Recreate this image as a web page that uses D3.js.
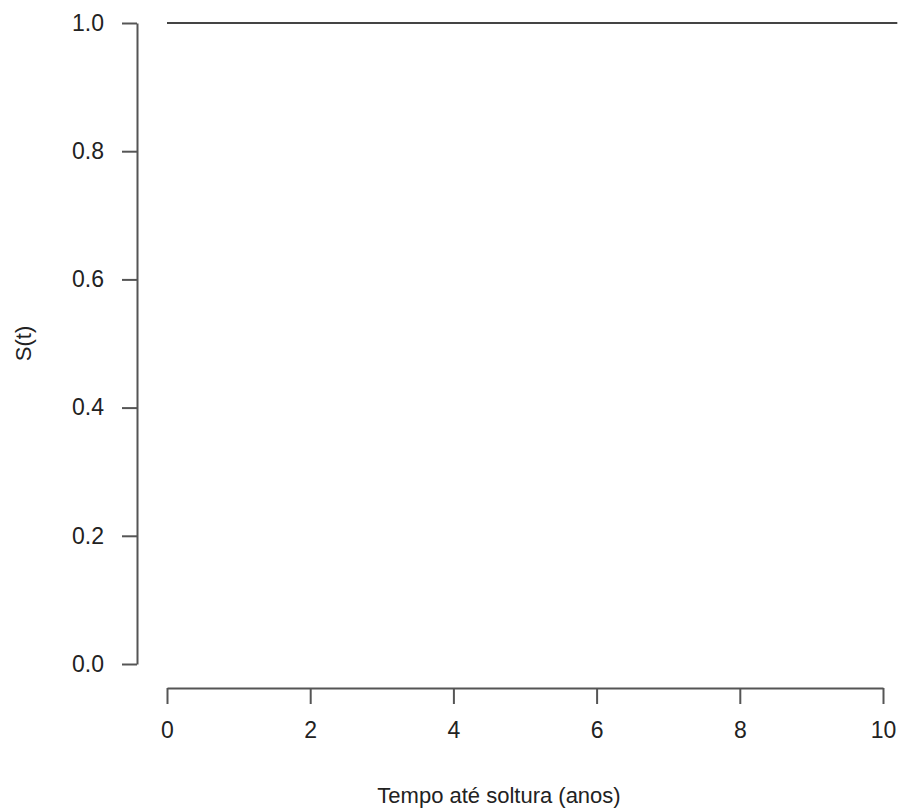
<!DOCTYPE html>
<html>
<head>
<meta charset="utf-8">
<script src="https://cdn.jsdelivr.net/npm/d3@7"></script>
<style>
  body { margin: 0; background: #fff; }
  svg text { font-family: "Liberation Sans", Arial, sans-serif; fill: #222; }
</style>
</head>
<body>
<div class="chart"></div>
<script>
// survival curve: S(t) stays at 1 over the whole observed period
const times = [0, 10.2];
const survival = [1, 1];
const x_ticks = [0, 2, 4, 6, 8, 10];
const y_ticks = [0.0, 0.2, 0.4, 0.6, 0.8, 1.0];
const x_label = 'Tempo até soltura (anos)';
const y_label = 'S(t)';

const width = 902, height = 811;
const tick_font = '23px';
const title_font = '22px';
const svg = d3.select('.chart').append('svg')
  .attr('width', width)
  .attr('height', height);

// scales
const x = d3.scaleLinear().domain([0, 10]).range([167, 883]);
const y = d3.scaleLinear().domain([0, 1]).range([664, 23]);

const axis_color = '#555';

// y axis (R style, detached)
const y_axis = d3.axisLeft(y)
  .tickValues(y_ticks)
  .tickFormat(d3.format('.1f'))
  .tickSize(15)
  .tickSizeOuter(0)
  .tickPadding(18);
const y_group = svg.append('g')
  .attr('transform', 'translate(137,0)')
  .call(y_axis);

// x axis
const x_axis = d3.axisBottom(x)
  .tickValues(x_ticks)
  .tickFormat(d3.format('d'))
  .tickSize(16)
  .tickSizeOuter(0)
  .tickPadding(18);
const x_group = svg.append('g')
  .attr('transform', 'translate(0,688)')
  .call(x_axis);

[y_group, x_group].forEach(g => {
  g.attr('font-size', null);
  g.select('.domain').attr('stroke', axis_color).attr('stroke-width', 2);
  g.selectAll('.tick line').attr('stroke', axis_color).attr('stroke-width', 2);
  g.selectAll('.tick text').style('font-size', tick_font).attr('fill', '#222');
});

// axis titles
svg.append('text')
  .attr('x', 499)
  .attr('y', 803)
  .attr('text-anchor', 'middle')
  .style('font-size', title_font)
  .text(x_label);

svg.append('text')
  .attr('transform', `translate(31, ${y(0.5)}) rotate(-90)`)
  .attr('text-anchor', 'middle')
  .style('font-size', title_font)
  .text(y_label);

// the curve
const data = times.map((t, i) => ({ t: t, s: survival[i] }));
const line = d3.line()
  .x(d => x(d.t))
  .y(d => y(d.s))
  .curve(d3.curveStepAfter);

svg.append('path')
  .datum(data)
  .attr('fill', 'none')
  .attr('stroke', '#444')
  .attr('stroke-width', 2.2)
  .attr('d', line);
</script>
</body>
</html>
